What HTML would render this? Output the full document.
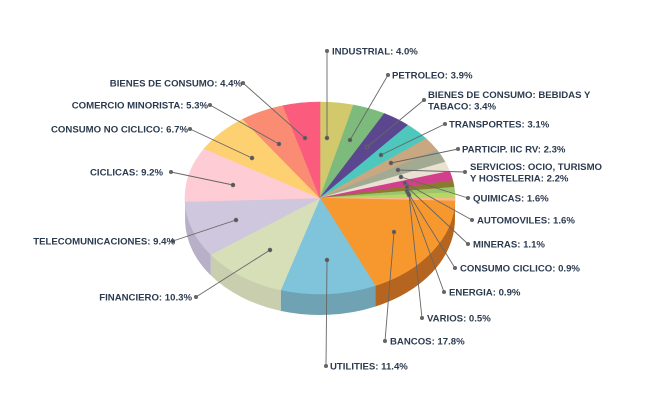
<!DOCTYPE html>
<html><head><meta charset="utf-8"><style>
html,body{margin:0;padding:0;background:#fff;width:658px;height:405px;overflow:hidden}
text{font-family:"Liberation Sans",sans-serif;font-weight:bold;font-size:9.6px;fill:#2b3a4e}
</style></head><body>
<svg id="s" width="658" height="405" viewBox="0 0 658 405" xmlns="http://www.w3.org/2000/svg">
<g id="walls"></g><g id="tops"></g><g id="lines" stroke="#666" stroke-width="0.9" fill="#666"></g>
<g id="labels"></g>
</svg>
<script>
var cx=320,cy=198,rx=135,ry=96,d=21;
var data=[[4.0,'#d2c86c'],[3.9,'#7dbb7c'],[3.4,'#5b4690'],[3.1,'#4ec7bd'],[2.3,'#c9a780'],[2.2,'#a3aa93'],[1.6,'#e9e1d2'],[1.6,'#d33f8c'],[1.1,'#8a7a30'],[0.9,'#9cc46c'],[0.9,'#b4d862'],[0.5,'#f8b88e'],[17.8,'#f7982f'],[11.4,'#7fc4da'],[10.3,'#d7dfb9'],[9.4,'#cfc7dd'],[9.2,'#fdccd4'],[6.7,'#fdd172'],[5.3,'#fb8c74'],[4.4,'#fb5b7c']];
var wallC={12:'#b5651f',13:'#6fa2b2',14:'#c9cfae',15:'#b8b0c6'};
function P(t,dy){return [cx+rx*Math.sin(t),cy-ry*Math.cos(t)+(dy||0)];}
var NS='http://www.w3.org/2000/svg';
function add(g,tag,at){var e=document.createElementNS(NS,tag);for(var k in at)e.setAttribute(k,at[k]);document.getElementById(g).appendChild(e);return e;}
var a=0;
data.forEach(function(s,i){
 var t0=a/100*2*Math.PI,t1=(a+s[0])/100*2*Math.PI;a+=s[0];
 var p0=P(t0),p1=P(t1),lg=(t1-t0)>Math.PI?1:0;
 add('tops','path',{d:'M'+cx+','+cy+'L'+p0+'A'+rx+','+ry+' 0 '+lg+' 1 '+p1+'Z',fill:s[1],stroke:s[1],'stroke-width':0.6});
 var w0=Math.max(t0,Math.PI/2),w1=Math.min(t1,1.5*Math.PI);
 if(w1>w0){var q0=P(w0),q1=P(w1),q1d=P(w1,d),q0d=P(w0,d);
  add('walls','path',{d:'M'+q0+'A'+rx+','+ry+' 0 0 1 '+q1+'L'+q1d+'A'+rx+','+ry+' 0 0 0 '+q0d+'Z',fill:wallC[i]||s[1]});}
});
var L=[
[327,51,327,138,332,'start',['INDUSTRIAL: 4.0%']],
[388,75,350,140,392,'start',['PETROLEO: 3.9%']],
[424,100,367,147,428,'start',['BIENES DE CONSUMO: BEBIDAS Y','TABACO: 3.4%']],
[445,124,381,155,449,'start',['TRANSPORTES: 3.1%']],
[458,149,391,163,462,'start',['PARTICIP. IIC RV: 2.3%']],
[465,172,398,170,470,'start',['SERVICIOS: OCIO, TURISMO','Y HOSTELERIA: 2.2%']],
[468,198,401,177,473,'start',['QUIMICAS: 1.6%']],
[472,220,405,183,477,'start',['AUTOMOVILES: 1.6%']],
[468,244,407,187,473,'start',['MINERAS: 1.1%']],
[455,268,407,191,460,'start',['CONSUMO CICLICO: 0.9%']],
[444,292,408,193,449,'start',['ENERGIA: 0.9%']],
[422,318,409,195,427,'start',['VARIOS: 0.5%']],
[385,341,394,232,390,'start',['BANCOS: 17.8%']],
[326,366,327,260,330,'start',['UTILITIES: 11.4%']],
[196,297,270,250,192,'end',['FINANCIERO: 10.3%']],
[173,241,236,220,175,'end',['TELECOMUNICACIONES: 9.4%']],
[171,172,233,185,163,'end',['CICLICAS: 9.2%']],
[190,129,252,158,188,'end',['CONSUMO NO CICLICO: 6.7%']],
[210,105,279,144,208,'end',['COMERCIO MINORISTA: 5.3%']],
[243,83,305,138,242,'end',['BIENES DE CONSUMO: 4.4%']]
];
L.forEach(function(l){
 add('lines','line',{x1:l[0],y1:l[1],x2:l[2],y2:l[3]});
 add('lines','circle',{cx:l[0],cy:l[1],r:1.6});
 add('lines','circle',{cx:l[2],cy:l[3],r:1.8,fill:'#555'});
 var n=l[6].length;
 l[6].forEach(function(tx,j){var t=add('labels','text',{x:l[4],y:l[1]+3.5+(j-(n-1)/2)*11.5,'text-anchor':l[5]});t.textContent=tx;});
});
</script>
</body></html>
